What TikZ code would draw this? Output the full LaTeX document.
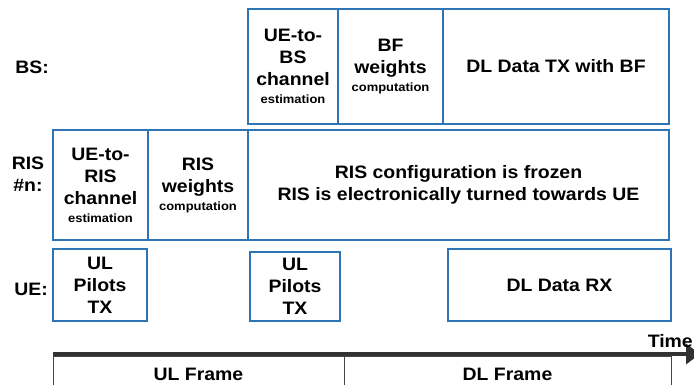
\documentclass[tikz,border=0pt]{standalone}
\usepackage{fontspec}
\setmainfont[FakeStretch=1.08]{Liberation Sans}
\usetikzlibrary{arrows.meta}
\definecolor{boxblue}{RGB}{46,117,182}
\definecolor{framegray}{RGB}{70,70,70}
\definecolor{arrowgray}{RGB}{50,50,50}
\newcommand{\smalltxt}[1]{{\fontsize{12}{14}\selectfont #1}}
\begin{document}
\begin{tikzpicture}[x=1pt,y=-1pt,
  every node/.style={font=\bfseries\fontsize{18}{22}\selectfont, inner sep=0pt, align=center},
  box/.style={draw=boxblue, line width=1.1pt},
  framebox/.style={draw=framegray, line width=1pt},
  lbl/.style={align=center}]
\useasboundingbox (0,0) rectangle (694,385);
% row labels
\node[lbl] (lbs) at (32,67) {BS:};
\node[lbl] (lris) at (28,174) {RIS\\\#n:};
\node[lbl] (lue) at (31,289) {UE:};
% BS row
\node[box, minimum width=90pt, minimum height=115pt] (bs1) at (293,66.5) {UE-to-\\BS\\channel\\[-4pt]\smalltxt{estimation}};
\node[box, minimum width=105pt, minimum height=115pt] (bs2) at (390.5,66.5) {BF\\weights\\[-4pt]\smalltxt{computation}};
\node[box, minimum width=226pt, minimum height=115pt] (bs3) at (556,66.5) {DL Data TX with BF};
% RIS row
\node[box, minimum width=95pt, minimum height=110pt] (ris1) at (100.5,185) {UE-to-\\RIS\\channel\\[-4pt]\smalltxt{estimation}};
\node[box, minimum width=100pt, minimum height=110pt] (ris2) at (198,185) {RIS\\weights\\[-4pt]\smalltxt{computation}};
\node[box, minimum width=421pt, minimum height=110pt] (ris3) at (458.5,185) {RIS configuration is frozen\\RIS is electronically turned towards UE};
% UE row
\node[box, minimum width=94pt, minimum height=72pt] (ue1) at (100,285) {UL\\Pilots\\TX};
\node[box, minimum width=90pt, minimum height=69pt] (ue2) at (295,286.5) {UL\\Pilots\\TX};
\node[box, minimum width=223pt, minimum height=72pt] (ue3) at (559.5,285) {DL Data RX};
% frames
\node[framebox, minimum width=291pt, minimum height=40pt] (ulf) at (198.5,376) {};
\node[framebox, minimum width=327pt, minimum height=40pt] (dlf) at (507.5,376) {};
\node at (198.5,374) (ult) {UL Frame};
\node at (507.5,374) (dlt) {DL Frame};
% time axis
\coordinate (tstart) at (53,354);
\coordinate (tend) at (700,354);
\draw[arrowgray, line width=4pt, -{Triangle[length=14pt,width=20pt]}] (tstart) -- (tend);
\node[anchor=base east] (time) at (693,347) {Time};
\end{tikzpicture}
\end{document}
